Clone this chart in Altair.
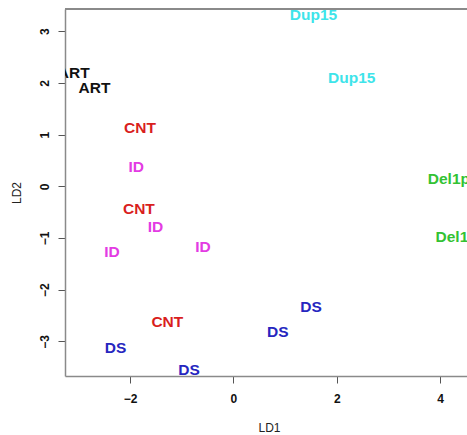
import altair as alt
import pandas as pd

labels = ["ART", "ART", "CNT", "ID", "CNT", "ID", "ID", "ID", "CNT",
          "DS", "DS", "DS", "DS", "Dup15", "Dup15", "Del1p", "Del1p"]
ld1 = [-3.09, -2.69, -1.81, -1.88, -1.83, -1.51, -2.35, -0.59, -1.28,
       -2.28, -0.86, 0.86, 1.50, 1.55, 2.29, 4.17, 4.32]
ld2 = [2.19, 1.91, 1.12, 0.37, -0.43, -0.79, -1.27, -1.18, -2.63,
       -3.13, -3.56, -2.82, -2.34, 3.31, 2.09, 0.15, -0.99]

groups = ["ART", "CNT", "ID", "DS", "Dup15", "Del1p"]
colors = ["#111111", "#D91E1E", "#E33BE3", "#2626BF", "#3EE4EA", "#33C233"]

x_ticks = [-2, 0, 2, 4]
y_ticks = [-3, -2, -1, 0, 1, 2, 3]

df = pd.DataFrame({"label": labels, "LD1": ld1, "LD2": ld2})

W, H = 402, 367
box_color = "#8a8a8a"

text = alt.Chart(df).mark_text(
    font="Liberation Sans", fontSize=15.5, fontWeight="bold", clip=True
).encode(
    x=alt.X("LD1:Q", scale=alt.Scale(domain=[-3.26, 4.52], nice=False, zero=False),
            axis=alt.Axis(values=x_ticks, format="d", title="LD1",
                          grid=False, domainColor=box_color, domainWidth=1.5,
                          tickColor="#555555", tickSize=7, tickWidth=1,
                          labelFont="Liberation Sans", labelFontSize=12,
                          labelFontWeight="bold", labelColor="#111111",
                          labelPadding=10, labelBaseline="top",
                          titleFont="Liberation Sans", titleFontSize=12,
                          titleFontWeight="normal", titleColor="#222222",
                          titleX=204, titleY=51, titleBaseline="middle",
                          titleAlign="center")),
    y=alt.Y("LD2:Q", scale=alt.Scale(domain=[-3.67, 3.43], nice=False, zero=False),
            axis=alt.Axis(values=y_ticks, format="d", title="LD2",
                          grid=False, domainColor=box_color, domainWidth=1.5,
                          tickColor="#555555", tickSize=7, tickWidth=1,
                          labelFont="Liberation Sans", labelFontSize=12,
                          labelFontWeight="bold", labelColor="#111111",
                          labelAngle=270, labelAlign="center",
                          labelBaseline="bottom", labelPadding=7,
                          titleFont="Liberation Sans", titleFontSize=12,
                          titleFontWeight="normal", titleColor="#222222",
                          titleX=-49, titleY=183.5, titleBaseline="middle",
                          titleAlign="center", titleAngle=270)),
    text="label:N",
    color=alt.Color("label:N", scale=alt.Scale(domain=groups, range=colors), legend=None),
)

top_line = alt.Chart(df).mark_rule(color=box_color, strokeWidth=1.5).encode(
    x=alt.value(0), x2=alt.value(W + 10), y=alt.value(0)
)

chart = alt.layer(text, top_line).properties(
    width=W, height=H,
    autosize=alt.AutoSizeParams(type="none"),
    padding={"left": 65, "top": 9, "right": 0, "bottom": 59},
    background="white",
).configure_view(stroke=None)

chart.save("out.html", embed_options={"renderer": "svg", "actions": False})
